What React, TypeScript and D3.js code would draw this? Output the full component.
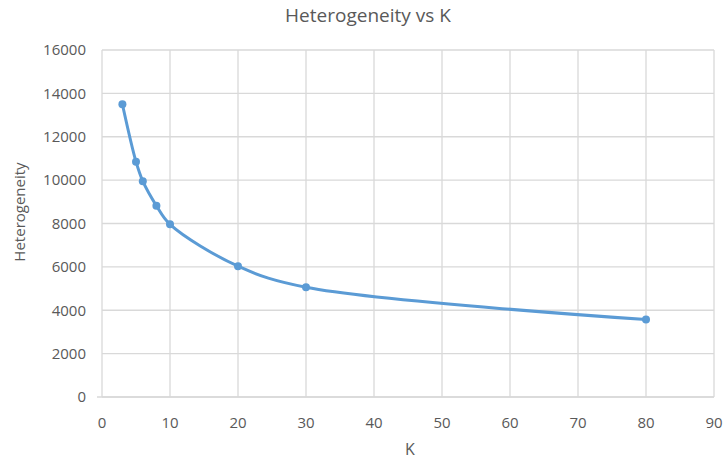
import React from "react";
import * as d3 from "d3";

const kValues = [3, 5, 6, 8, 10, 20, 30, 80];
const heterogeneity = [13500, 10850, 9950, 8820, 7960, 6030, 5060, 3570];
const xTicks = [0, 10, 20, 30, 40, 50, 60, 70, 80, 90];
const yTicks = [0, 2000, 4000, 6000, 8000, 10000, 12000, 14000, 16000];

export default function App() {
  const W = 725, H = 460;
  const left = 102, right = 714, top = 50, bottom = 397;
  const x = d3.scaleLinear().domain([0, 90]).range([left, right]);
  const y = d3.scaleLinear().domain([0, 16000]).range([bottom, top]);
  const pts: [number, number][] = kValues.map((k, i) => [x(k), y(heterogeneity[i])]);
  const line = d3.line().curve(d3.curveCatmullRom.alpha(0.5))(pts) || "";
  const font = "'Open Sans', 'Liberation Sans', sans-serif";
  const textColor = "#595959";
  const grid = "#d9d9d9";
  return (
    <svg width={W} height={H} style={{ position: "absolute", left: 0, top: 0, background: "#fff" }} fontFamily={font}>
      <rect width={W} height={H} fill="#fff" />
      {yTicks.map((t) => (
        <line key={"gy" + t} x1={left} x2={right} y1={y(t)} y2={y(t)} stroke={grid} strokeWidth={1.3} />
      ))}
      {xTicks.map((t) => (
        <line key={"gx" + t} x1={x(t)} x2={x(t)} y1={top} y2={bottom} stroke={grid} strokeWidth={1.3} />
      ))}
      <line x1={left - 5} x2={right} y1={bottom} y2={bottom} stroke={grid} strokeWidth={1.3} />
      {yTicks.map((t) => (
        <text key={"ty" + t} x={86} y={y(t)} dy="0.35em" textAnchor="end" fontSize={15} fill={textColor}>{t}</text>
      ))}
      {xTicks.map((t) => (
        <text key={"tx" + t} x={x(t)} y={423} dy="0.35em" textAnchor="middle" fontSize={15} fill={textColor}>{t}</text>
      ))}
      <path d={line} fill="none" stroke="#5b9bd5" strokeWidth={3} strokeLinecap="round" />
      {pts.map((p, i) => (
        <circle key={"p" + i} cx={p[0]} cy={p[1]} r={4} fill="#5b9bd5" />
      ))}
      <text x={368} y={15} dy="0.35em" textAnchor="middle" fontSize={19} fill={textColor}>Heterogeneity vs K</text>
      <text x={410} y={449} dy="0.35em" textAnchor="middle" fontSize={16} fill={textColor}>K</text>
      <text transform={`translate(20,${212}) rotate(-90)`} dy="0.35em" textAnchor="middle" fontSize={15} fill={textColor}>Heterogeneity</text>
    </svg>
  );
}
